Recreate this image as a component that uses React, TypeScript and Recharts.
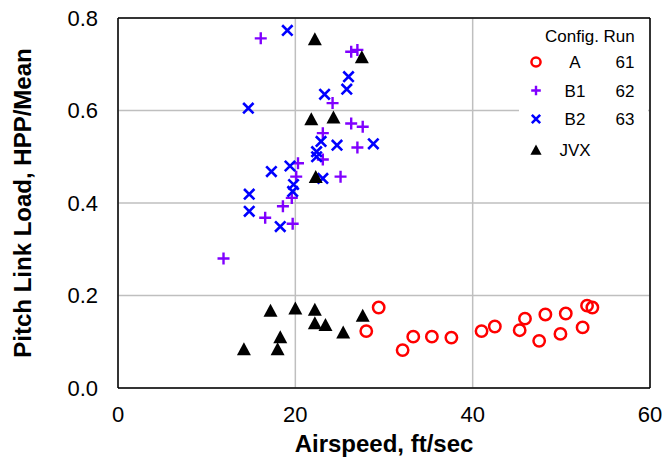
import React from "react";
import {
  ScatterChart,
  Scatter,
  XAxis,
  YAxis,
  CartesianGrid,
  ReferenceLine,
  Legend,
} from "recharts";

// Config A, run 61
const aSpeed = [28.0, 29.4, 32.1, 33.3, 35.4, 37.6, 41.0, 42.5, 45.3, 45.9, 47.5, 48.2, 49.9, 50.5, 52.4, 52.9, 53.5];
const aLoad = [0.123, 0.174, 0.082, 0.111, 0.111, 0.109, 0.123, 0.133, 0.125, 0.150, 0.102, 0.159, 0.117, 0.161, 0.131, 0.178, 0.174];

// Config B1, run 62
const b1Speed = [11.9, 16.1, 16.6, 18.6, 19.6, 19.7, 20.1, 20.3, 23.1, 23.1, 24.2, 25.1, 26.3, 26.3, 27.0, 27.0, 27.6];
const b1Load = [0.280, 0.756, 0.368, 0.393, 0.411, 0.355, 0.457, 0.486, 0.494, 0.551, 0.616, 0.457, 0.727, 0.572, 0.731, 0.520, 0.565];

// Config B2, run 63
const b2Speed = [14.7, 14.8, 14.8, 17.3, 18.3, 19.1, 19.4, 19.8, 19.7, 22.4, 22.4, 22.9, 23.1, 23.3, 24.7, 25.8, 26.0, 28.8];
const b2Load = [0.605, 0.419, 0.382, 0.468, 0.349, 0.773, 0.480, 0.440, 0.425, 0.511, 0.500, 0.533, 0.453, 0.635, 0.525, 0.646, 0.673, 0.528];

// JVX
const jvxSpeed = [14.2, 17.2, 18.0, 18.3, 20.0, 21.8, 22.2, 22.2, 22.2, 22.3, 23.4, 24.3, 25.4, 27.5, 27.6];
const jvxLoad = [0.084, 0.167, 0.084, 0.110, 0.172, 0.581, 0.754, 0.169, 0.140, 0.456, 0.136, 0.585, 0.120, 0.715, 0.156];

const xTicks = [0, 20, 40, 60];
const yTicks = [0, 0.2, 0.4, 0.6, 0.8];

const legendRows = [
  { config: "A", run: "61", shape: "circle" },
  { config: "B1", run: "62", shape: "plus" },
  { config: "B2", run: "63", shape: "cross" },
  { config: "JVX", run: "", shape: "triangle" },
];

const zip = (xs: number[], ys: number[]) => xs.map((x, i) => ({ x, y: ys[i] }));

const RED = "#ff0000";
const PURPLE = "#8000ff";
const BLUE = "#0000ff";
const FONT = "'Liberation Sans', Arial, sans-serif";

function Marker({ kind, cx, cy, s = 1 }: { kind: string; cx: number; cy: number; s?: number }) {
  if (kind === "circle")
    return <circle cx={cx} cy={cy} r={5.7 * s} fill="none" stroke={RED} strokeWidth={2.5} />;
  if (kind === "plus") {
    const h = 6 * s;
    return <path d={`M${cx - h},${cy}H${cx + h}M${cx},${cy - h}V${cy + h}`} stroke={PURPLE} strokeWidth={2.4} />;
  }
  if (kind === "cross") {
    const h = 5.2 * s;
    return (
      <path
        d={`M${cx - h},${cy - h}L${cx + h},${cy + h}M${cx + h},${cy - h}L${cx - h},${cy + h}`}
        stroke={BLUE}
        strokeWidth={2.6}
      />
    );
  }
  const w = 7 * s;
  return <polygon points={`${cx},${cy - w} ${cx + w},${cy + 6 * s} ${cx - w},${cy + 6 * s}`} fill="#000" />;
}

const shapeFor = (kind: string) => (props: any) => <Marker kind={kind} cx={props.cx} cy={props.cy} />;

function LegendBox() {
  const rowY = [42, 70.5, 99, 130];
  return (
    <svg width={129} height={178} style={{ display: "block", background: "#fff" }}>
      <g fontFamily={FONT} fontSize={17} fill="#000">
        <text x={26} y={22}>Config. Run</text>
        {legendRows.map((r, i) => (
          <g key={r.config}>
            <Marker kind={r.shape} cx={17} cy={rowY[i]} s={0.8} />
            <text x={56} y={rowY[i] + 6} textAnchor="middle">{r.config}</text>
            <text x={106} y={rowY[i] + 6} textAnchor="middle">{r.run}</text>
          </g>
        ))}
      </g>
    </svg>
  );
}

export default function App() {
  return (
    <div style={{ position: "absolute", left: 0, top: 0, width: 663, height: 464, background: "#fff", fontFamily: FONT }}>
      <ScatterChart width={663} height={464} margin={{ top: 18, right: 13, left: 0, bottom: 0 }}>
        <CartesianGrid stroke="#bfbfbf" strokeWidth={1.5} />
        <XAxis
          type="number"
          dataKey="x"
          domain={[0, 60]}
          ticks={xTicks}
          tickLine={false}
          tickSize={0}
          tickMargin={18}
          axisLine={{ stroke: "#000", strokeWidth: 1.5 }}
          tick={{ fill: "#000", fontSize: 22, fontFamily: FONT }}
          height={76}
          label={{
            value: "Airspeed, ft/sec",
            position: "insideBottom",
            offset: 12,
            style: { fill: "#000", fontSize: 24, fontWeight: "bold", fontFamily: FONT },
          }}
        />
        <YAxis
          type="number"
          dataKey="y"
          domain={[0, 0.8]}
          ticks={yTicks}
          tickLine={false}
          tickSize={0}
          tickMargin={20}
          tickFormatter={(v: number) => v.toFixed(1)}
          axisLine={{ stroke: "#000", strokeWidth: 1.5 }}
          tick={{ fill: "#000", fontSize: 22, fontFamily: FONT }}
          width={118}
          label={{
            value: "Pitch Link Load, HPP/Mean",
            angle: -90,
            position: "insideLeft",
            offset: 22,
            style: { fill: "#000", fontSize: 24, fontWeight: "bold", fontFamily: FONT, textAnchor: "middle" },
          }}
        />
        <ReferenceLine y={0.8} stroke="#000" strokeWidth={1.5} />
        <ReferenceLine x={60} stroke="#000" strokeWidth={1.5} />
        <Scatter name="A" data={zip(aSpeed, aLoad)} shape={shapeFor("circle")} isAnimationActive={false} />
        <Scatter name="B1" data={zip(b1Speed, b1Load)} shape={shapeFor("plus")} isAnimationActive={false} />
        <Scatter name="B2" data={zip(b2Speed, b2Load)} shape={shapeFor("cross")} isAnimationActive={false} />
        <Scatter name="JVX" data={zip(jvxSpeed, jvxLoad)} shape={shapeFor("triangle")} isAnimationActive={false} />
        <Legend
          layout="vertical"
          align="center"
          verticalAlign="middle"
          content={() => <LegendBox />}
          wrapperStyle={{ position: "absolute", left: 519, top: 20, width: 129, height: 178 }}
        />
      </ScatterChart>
    </div>
  );
}
